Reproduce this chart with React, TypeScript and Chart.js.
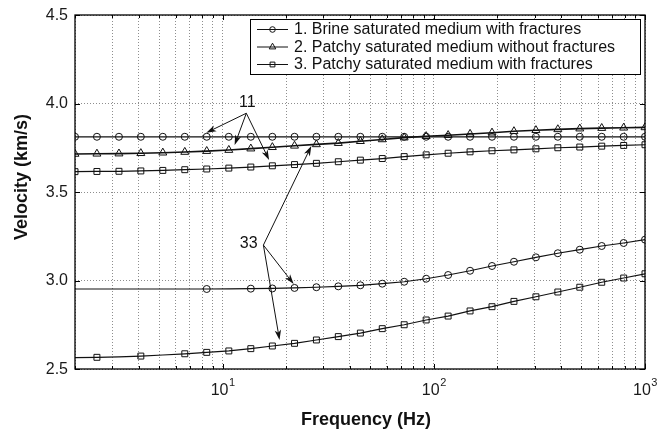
import { useEffect, useRef } from "react";
import { Chart, registerables } from "chart.js";

Chart.register(...registerables);

// Sampling frequencies (Hz), log-spaced from 2 Hz to 1 kHz
const frequencies = [
  2.0, 2.54, 3.23, 4.1, 5.21, 6.62, 8.41, 10.7, 13.6, 17.2, 21.9, 27.8, 35.3, 44.9,
  57.0, 72.4, 92.0, 116.9, 148.5, 188.6, 239.6, 304.4, 386.6, 491.2, 623.9, 792.6, 1000,
];

// 1. Brine saturated medium with fractures, direction 11
const brine11 = [
  3.812, 3.812, 3.812, 3.812, 3.812, 3.812, 3.812, 3.812, 3.812, 3.812, 3.812, 3.812, 3.812, 3.812,
  3.812, 3.812, 3.812, 3.812, 3.812, 3.812, 3.812, 3.812, 3.812, 3.812, 3.812, 3.812, 3.812,
];

// 2. Patchy saturated medium without fractures (11 and 33 coincide)
const patchyNoFrac = [
  3.715, 3.716, 3.717, 3.719, 3.722, 3.726, 3.731, 3.737, 3.745, 3.753, 3.761, 3.769, 3.776, 3.787,
  3.797, 3.807, 3.815, 3.821, 3.828, 3.835, 3.843, 3.849, 3.854, 3.858, 3.861, 3.863, 3.865,
];

// 3. Patchy saturated medium with fractures, direction 11
const patchyFrac11 = [
  3.615, 3.616, 3.617, 3.619, 3.622, 3.626, 3.63, 3.635, 3.641, 3.648, 3.655, 3.662, 3.671, 3.68,
  3.689, 3.7, 3.71, 3.719, 3.727, 3.733, 3.738, 3.744, 3.75, 3.754, 3.759, 3.763, 3.767,
];

// 1. Brine saturated medium with fractures, direction 33
const brine33 = [
  2.952, 2.952, 2.952, 2.952, 2.952, 2.952, 2.952, 2.953, 2.954, 2.955, 2.958, 2.962, 2.967, 2.973,
  2.982, 2.993, 3.01, 3.031, 3.055, 3.082, 3.106, 3.131, 3.154, 3.174, 3.195, 3.212, 3.231,
];

// 3. Patchy saturated medium with fractures, direction 33
const patchyFrac33 = [
  2.564, 2.566, 2.569, 2.573, 2.579, 2.586, 2.594, 2.602, 2.615, 2.63, 2.645, 2.664, 2.683, 2.703,
  2.728, 2.75, 2.777, 2.799, 2.828, 2.852, 2.882, 2.908, 2.935, 2.962, 2.99, 3.014, 3.038,
];

// Samples drawn without a marker on the 33 curves
const brine33Unmarked = [0, 1, 2, 3, 4, 5, 7];
const patchyFrac33Unmarked = [0, 2, 4];

const legendLabels = [
  "1. Brine saturated medium with fractures",
  "2. Patchy saturated medium without fractures",
  "3. Patchy saturated medium with fractures",
];
const legendMarkers = ["circle", "triangle", "rect"];

const yTickValues = [2.5, 3.0, 3.5, 4.0, 4.5];
const xDecadeExponents = [1, 2, 3];
const xGridValues = [
  2, 3, 4, 5, 6, 7, 8, 9, 10, 20, 30, 40, 50, 60, 70, 80, 90, 100,
  200, 300, 400, 500, 600, 700, 800, 900, 1000,
];
const xAxisTitle = "Frequency (Hz)";
const yAxisTitle = "Velocity (km/s)";

// Direction callouts: label anchor, arrow origin and arrow tips, all in (Hz, km/s)
const callouts = [
  {
    text: "11",
    at: [13.1, 4.007],
    from: [12.95, 3.945],
    to: [
      [8.37, 3.835],
      [11.4, 3.766],
      [16.6, 3.681],
    ],
  },
  {
    text: "33",
    at: [13.3, 3.206],
    from: [15.6, 3.2],
    to: [
      [21.7, 2.98],
      [18.6, 2.664],
      [26.3, 3.76],
    ],
  },
];

const FONT = '"Liberation Sans", Arial, Helvetica, sans-serif';
const INK = "#111";

function pathMarker(ctx: CanvasRenderingContext2D, style: string, x: number, y: number, r: number) {
  ctx.beginPath();
  if (style === "circle") {
    ctx.arc(x, y, r, 0, Math.PI * 2);
  } else if (style === "triangle") {
    let a = 0;
    ctx.moveTo(x + Math.sin(a) * r, y - Math.cos(a) * r);
    a += (2 * Math.PI) / 3;
    ctx.lineTo(x + Math.sin(a) * r, y - Math.cos(a) * r);
    a += (2 * Math.PI) / 3;
    ctx.lineTo(x + Math.sin(a) * r, y - Math.cos(a) * r);
    ctx.closePath();
  } else {
    const s = r * Math.SQRT1_2;
    ctx.rect(x - s, y - s, 2 * s, 2 * s);
  }
  ctx.stroke();
}

function drawArrow(ctx: CanvasRenderingContext2D, x0: number, y0: number, x1: number, y1: number) {
  const ang = Math.atan2(y1 - y0, x1 - x0);
  const c = Math.cos(ang);
  const s = Math.sin(ang);
  const len = 10;
  const hw = 3.2;
  ctx.beginPath();
  ctx.moveTo(x0, y0);
  ctx.lineTo(x1 - c * len * 0.6, y1 - s * len * 0.6);
  ctx.stroke();
  const bx = x1 - c * len;
  const by = y1 - s * len;
  ctx.beginPath();
  ctx.moveTo(x1, y1);
  ctx.lineTo(bx - s * hw, by + c * hw);
  ctx.lineTo(x1 - c * len * 0.72, y1 - s * len * 0.72);
  ctx.lineTo(bx + s * hw, by - c * hw);
  ctx.closePath();
  ctx.fill();
}

const decorations = {
  id: "decorations",
  afterDraw(chart: any) {
    const ctx: CanvasRenderingContext2D = chart.ctx;
    const { left, right, top, bottom } = chart.chartArea;
    const xs = chart.scales.x;
    const ys = chart.scales.y;
    ctx.save();

    // Callout arrows and labels
    ctx.strokeStyle = INK;
    ctx.fillStyle = INK;
    ctx.lineWidth = 1;
    for (const c of callouts) {
      const ox = xs.getPixelForValue(c.from[0]);
      const oy = ys.getPixelForValue(c.from[1]);
      for (const t of c.to) {
        drawArrow(ctx, ox, oy, xs.getPixelForValue(t[0]), ys.getPixelForValue(t[1]));
      }
      ctx.font = `16px ${FONT}`;
      ctx.textAlign = "center";
      ctx.textBaseline = "middle";
      ctx.fillText(c.text, xs.getPixelForValue(c.at[0]), ys.getPixelForValue(c.at[1]));
    }

    // Axes box
    ctx.strokeStyle = "#000";
    ctx.lineWidth = 1.3;
    ctx.strokeRect(left, top, right - left, bottom - top);

    // Inward tick marks
    ctx.lineWidth = 1;
    ctx.beginPath();
    for (const v of xGridValues) {
      const px = Math.round(xs.getPixelForValue(v)) + 0.5;
      const major = xDecadeExponents.some((e) => Math.abs(10 ** e - v) < 1e-9);
      const len = major ? 5 : 3;
      ctx.moveTo(px, bottom);
      ctx.lineTo(px, bottom - len);
      ctx.moveTo(px, top);
      ctx.lineTo(px, top + len);
    }
    for (const v of yTickValues) {
      const py = Math.round(ys.getPixelForValue(v)) + 0.5;
      ctx.moveTo(left, py);
      ctx.lineTo(left + 5, py);
      ctx.moveTo(right, py);
      ctx.lineTo(right - 5, py);
    }
    ctx.stroke();

    // Tick labels
    ctx.fillStyle = "#1a1a1a";
    ctx.font = `16px ${FONT}`;
    ctx.textAlign = "right";
    ctx.textBaseline = "middle";
    for (const v of yTickValues) {
      ctx.fillText(v.toFixed(1), left - 7, ys.getPixelForValue(v) + 0.5);
    }
    for (const e of xDecadeExponents) {
      const px = xs.getPixelForValue(10 ** e);
      ctx.font = `16px ${FONT}`;
      const wBase = ctx.measureText("10").width;
      ctx.font = `11px ${FONT}`;
      const wExp = ctx.measureText(String(e)).width;
      const x0 = px - (wBase + wExp) / 2;
      ctx.textAlign = "left";
      ctx.textBaseline = "alphabetic";
      ctx.font = `16px ${FONT}`;
      ctx.fillText("10", x0, bottom + 26);
      ctx.font = `11px ${FONT}`;
      ctx.fillText(String(e), x0 + wBase + 0.5, bottom + 17);
    }

    // Axis titles
    ctx.fillStyle = "#111";
    ctx.font = `bold 18px ${FONT}`;
    ctx.textAlign = "center";
    ctx.textBaseline = "alphabetic";
    ctx.fillText(xAxisTitle, (left + right) / 2 + 6, bottom + 56);
    ctx.save();
    ctx.translate(left - 48, (top + bottom) / 2 - 15);
    ctx.rotate(-Math.PI / 2);
    ctx.fillText(yAxisTitle, 0, 0);
    ctx.restore();

    // Legend
    const bw = 390;
    const bh = 55;
    const bx = right - 5 - bw;
    const by = top + 4;
    ctx.fillStyle = "#fff";
    ctx.fillRect(bx, by, bw, bh);
    ctx.strokeStyle = "#000";
    ctx.lineWidth = 1;
    ctx.strokeRect(bx + 0.5, by + 0.5, bw, bh);
    const markerSize = [2.8, 3.8, 3.4];
    legendLabels.forEach((label, i) => {
      const ry = by + 10.5 + i * 17.5;
      ctx.strokeStyle = INK;
      ctx.lineWidth = 1;
      ctx.beginPath();
      ctx.moveTo(bx + 7, ry);
      ctx.lineTo(bx + 38, ry);
      ctx.stroke();
      pathMarker(ctx, legendMarkers[i], bx + 22.5, ry, markerSize[i]);
      ctx.fillStyle = "#111";
      ctx.font = `16px ${FONT}`;
      ctx.textAlign = "left";
      ctx.textBaseline = "middle";
      ctx.fillText(label, bx + 44, ry + 0.5);
    });

    ctx.restore();
  },
};

function series(values: number[]) {
  return frequencies.map((f, i) => ({ x: f, y: values[i] }));
}

function lineStyle(pointStyle: string, radius: number | ((c: any) => number), width = 1.2) {
  return {
    borderColor: INK,
    borderWidth: width,
    pointStyle,
    pointRadius: radius,
    pointBorderColor: INK,
    pointBorderWidth: 1,
    pointBackgroundColor: "rgba(255,255,255,0)",
    tension: 0,
    fill: false,
  };
}

export default function App() {
  const canvasRef = useRef<HTMLCanvasElement | null>(null);

  useEffect(() => {
    const canvas = canvasRef.current;
    if (!canvas) return;
    const chart = new Chart(canvas, {
      type: "line",
      data: {
        datasets: [
          { label: legendLabels[0], data: series(brine11), ...lineStyle("circle", 3.5) },
          { label: legendLabels[1], data: series(patchyNoFrac), ...lineStyle("triangle", 4.6, 1.6) },
          { label: legendLabels[2], data: series(patchyFrac11), ...lineStyle("rect", 4.2) },
          {
            label: legendLabels[0] + " (33)",
            data: series(brine33),
            ...lineStyle("circle", (c: any) => (brine33Unmarked.includes(c.dataIndex) ? 0 : 3.5)),
          },
          {
            label: legendLabels[2] + " (33)",
            data: series(patchyFrac33),
            ...lineStyle("rect", (c: any) => (patchyFrac33Unmarked.includes(c.dataIndex) ? 0 : 4.2)),
          },
        ] as any,
      },
      options: {
        animation: false,
        responsive: false,
        devicePixelRatio: 1,
        layout: { padding: { left: 75, right: 14, top: 15, bottom: 63 } },
        plugins: { legend: { display: false }, tooltip: { enabled: false } },
        scales: {
          x: {
            type: "logarithmic",
            min: 2,
            max: 1000,
            afterBuildTicks: (scale: any) => {
              scale.ticks = xGridValues.map((v) => ({ value: v }));
            },
            ticks: { display: false },
            grid: { drawTicks: false, color: "#8e8e8e", lineWidth: 1 },
            border: { display: false, dash: [1, 2] },
          },
          y: {
            type: "linear",
            min: 2.5,
            max: 4.5,
            afterBuildTicks: (scale: any) => {
              scale.ticks = yTickValues.map((v) => ({ value: v }));
            },
            ticks: { display: false },
            grid: { drawTicks: false, color: "#8e8e8e", lineWidth: 1 },
            border: { display: false, dash: [1, 2] },
          },
        },
      } as any,
      plugins: [decorations],
    });
    return () => chart.destroy();
  }, []);

  return (
    <div style={{ position: "fixed", left: 0, top: 0, width: 659, height: 432, background: "#fff" }}>
      <canvas ref={canvasRef} width={659} height={432} style={{ display: "block" }} />
    </div>
  );
}
